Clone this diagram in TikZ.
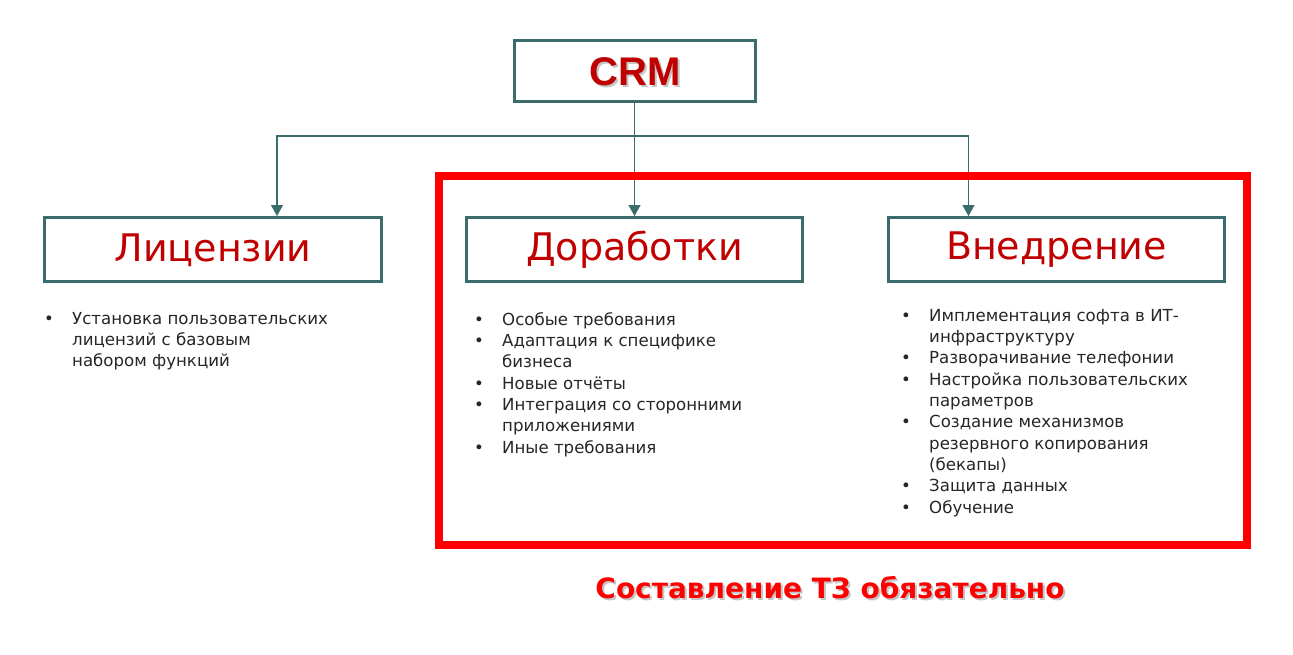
\documentclass[tikz,border=0pt]{standalone}
\usepackage{fontspec}
\setmainfont{DejaVu Sans}
\newfontfamily\crmfont{Liberation Sans}
\usetikzlibrary{arrows.meta}
\definecolor{tealline}{HTML}{3B6B6B}
\definecolor{titlered}{HTML}{C00000}
\definecolor{framered}{HTML}{FF0000}
\definecolor{bodytext}{HTML}{262626}
\newcommand{\blt}{\makebox[24pt][l]{\hspace{-4pt}\textbullet}}
\tikzset{
  catbox/.style={draw=tealline, line width=3pt, fill=white, minimum width=336pt, minimum height=64pt, inner sep=0pt},
  cattitle/.style={text=titlered, font=\fontsize{38pt}{42pt}\selectfont},
  conn/.style={draw=tealline, line width=1.3pt},
  arr/.style={conn, -{Triangle[width=12pt,length=11pt]}},
  bullets/.style={anchor=north west, inner sep=0pt, text=bodytext, font=\fontsize{16.6pt}{21.3pt}\selectfont},
  redframe/.style={draw=framered, line width=8pt, inner sep=0pt},
  shadowtext/.style={text=black!45, opacity=0.5}
}
\begin{document}
\begin{tikzpicture}[x=1pt,y=-1pt]
\useasboundingbox[fill=white] (0,0) rectangle (1293,654);
% top box
\node[draw=tealline, line width=3pt, fill=white, minimum width=241pt, minimum height=61pt, inner sep=0pt] (crm) at (634.5,71) {};
\node[shadowtext, font=\crmfont\bfseries\fontsize{40pt}{44pt}\selectfont] (crmsh) at (637,74) {CRM};
\node[text=titlered, font=\crmfont\bfseries\fontsize{40pt}{44pt}\selectfont] (crmtxt) at (635,72) {CRM};
% category boxes
\node[catbox, minimum width=337pt] (lic) at (213,249.5) {};
\node[cattitle] (lictxt) at (213,250) {Лицензии};
\node[catbox] (dor) at (634.5,249.5) {};
\node[cattitle] (dortxt) at (634.5,250) {Доработки};
\node[catbox] (vne) at (1056.5,249.5) {};
\node[cattitle] (vnetxt) at (1056.5,250) {Внедрение};
% connectors
\coordinate (j) at (634.5,136);
\draw[arr] (crm.south) -- (dor.north);
\draw[arr] (j) -| ([xshift=64pt]lic.north);
\draw[arr] (j) -| ([xshift=-88pt]vne.north);
% red frame
\node[redframe, minimum width=807.5pt, minimum height=369pt] (frame) at (842.75,360.5) {};
% bullet lists
\node[bullets] (liclist) at (48,309.2) {\begin{tabular}[t]{@{}l@{}l@{}}
\blt & Установка пользовательских\\
 & лицензий с базовым\\
 & набором функций
\end{tabular}};
\node[bullets] (dorlist) at (478,310.2) {\begin{tabular}[t]{@{}l@{}l@{}}
\blt & Особые требования\\
\blt & Адаптация к специфике\\
 & бизнеса\\
\blt & Новые отчёты\\
\blt & Интеграция со сторонними\\
 & приложениями\\
\blt & Иные требования
\end{tabular}};
\node[bullets] (vnelist) at (905,306.2) {\begin{tabular}[t]{@{}l@{}l@{}}
\blt & Имплементация софта в ИТ-\\
 & инфраструктуру\\
\blt & Разворачивание телефонии\\
\blt & Настройка пользовательских\\
 & параметров\\
\blt & Создание механизмов\\
 & резервного копирования\\
 & (бекапы)\\
\blt & Защита данных\\
\blt & Обучение
\end{tabular}};
% bottom note
\node[shadowtext, font=\bfseries\fontsize{28pt}{32pt}\selectfont] (notesh) at (832,590) {Составление ТЗ обязательно};
\node[text=framered, font=\bfseries\fontsize{28pt}{32pt}\selectfont] (note) at (830,588) {Составление ТЗ обязательно};
\end{tikzpicture}
\end{document}
